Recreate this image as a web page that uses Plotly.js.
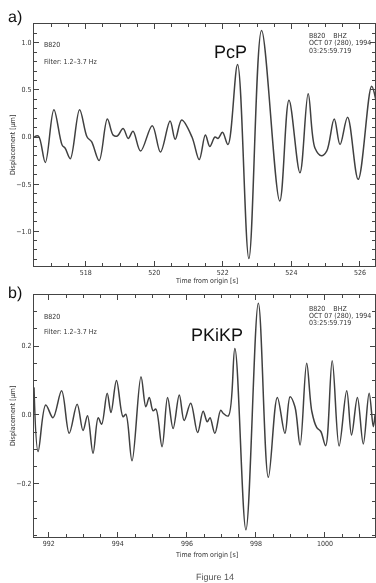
<!DOCTYPE html>
<html>
<head>
<meta charset="utf-8">
<script src="https://cdn.plot.ly/plotly-3.0.1.min.js"></script>
<style>html,body{margin:0;padding:0;background:#fff;}#chart{width:376px;height:583px;}
.main-svg{will-change:transform;}
.main-svg text{text-rendering:geometricPrecision;}
</style>
</head>
<body>
<div id="chart"></div>
<script>
// Panel a) PcP
const timeA = [516.50,516.62,516.82,517.07,517.31,517.40,517.55,517.82,518.04,518.17,518.39,518.63,518.80,518.92,519.09,519.24,519.38,519.60,519.94,520.18,520.46,520.61,520.80,521.10,521.31,521.49,521.62,521.77,521.86,521.99,522.15,522.43,522.76,523.13,523.66,523.93,524.25,524.49,524.69,524.88,525.03,525.25,525.42,525.64,525.95,526.34,526.46];
const dispA = [0.00,0.01,-0.27,0.29,-0.085,-0.12,-0.23,0.29,0.00,-0.05,-0.25,0.19,0.02,0.01,0.09,-0.015,0.06,-0.15,0.12,-0.16,0.17,-0.025,0.18,0.00,-0.24,0.02,-0.10,0.00,-0.015,0.05,-0.08,0.77,-1.29,1.13,-0.68,0.39,-0.38,0.46,-0.12,-0.20,-0.15,0.19,-0.08,0.21,-0.45,0.54,0.40];
// Panel b) PKiKP
const timeB = [991.57,991.69,991.91,992.12,992.37,992.59,992.82,992.99,993.12,993.28,993.43,993.53,993.69,993.80,993.96,994.15,994.23,994.41,994.67,994.81,994.91,995.02,995.10,995.28,995.44,995.60,995.78,995.92,996.11,996.31,996.47,996.59,996.67,996.81,996.98,997.05,997.20,997.39,997.71,998.07,998.36,998.62,998.84,998.99,999.13,999.28,999.47,999.62,999.76,999.88,1000.02,1000.21,1000.41,1000.63,1000.77,1000.94,1001.11,1001.28,1001.40,1001.45];
const dispB = [0.08,-0.106,0.029,-0.008,0.07,-0.053,0.031,-0.045,-0.002,-0.111,-0.008,-0.027,0.063,0.007,0.10,-0.005,0.002,-0.133,0.111,0.024,0.051,0.012,0.017,-0.092,0.051,-0.039,0.058,-0.016,0.034,-0.051,0.011,-0.02,-0.008,-0.053,0.014,0.005,-0.003,0.193,-0.333,0.324,-0.181,0.051,-0.053,0.053,0.024,-0.087,0.15,0.01,-0.036,-0.048,-0.089,0.157,-0.09,0.070,-0.058,0.051,-0.084,0.063,-0.034,0.0];

const W = 376, H = 583, L = 34, R = 1;
const px = x => (x - L) / (W - L - R);
const py = y => (H - y) / H;

const lineStyle = {color: '#404040', width: 1.5, shape: 'spline', smoothing: 1};
const traces = [
  {x: timeA, y: dispA, xaxis: 'x', yaxis: 'y', mode: 'lines', line: lineStyle, hoverinfo: 'skip'},
  {x: timeB, y: dispB, xaxis: 'x2', yaxis: 'y2', mode: 'lines', line: lineStyle, hoverinfo: 'skip'}
];

const tickFont = {family: '"Liberation Sans Narrow", "DejaVu Sans Condensed", sans-serif', size: 7, color: '#333'};
function xAxis(range, anchor) {
  return {range: range, anchor: anchor, dtick: 2, tick0: 0, ticks: 'inside', ticklen: 5, tickwidth: 1, tickcolor: '#444',
    showline: true, linecolor: '#444', linewidth: 1, mirror: 'allticks', showgrid: false, zeroline: false,
    tickfont: tickFont, ticklabelstandoff: 0,
    minor: {dtick: 0.5, ticks: 'inside', ticklen: 3, tickcolor: '#444', showgrid: false}};
}
function yAxis(range, domain, anchor, dtick, mdtick) {
  return {range: range, domain: domain, anchor: anchor, dtick: dtick, tick0: 0, tickformat: '.1f', ticks: 'inside', ticklen: 5, tickwidth: 1, tickcolor: '#444',
    showline: true, linecolor: '#444', linewidth: 1, mirror: 'allticks', showgrid: false, zeroline: false,
    tickfont: tickFont, ticklabelstandoff: 0,
    minor: {dtick: mdtick, ticks: 'inside', ticklen: 3, tickcolor: '#444', showgrid: false}};
}

const small = {family: '"Liberation Sans Narrow", "DejaVu Sans Condensed", sans-serif', size: 7, color: '#333'};
const big = {family: '"Liberation Sans", Arial, sans-serif', size: 18, color: '#111'};
function ann(text, x, y, font, xa, extra) {
  return Object.assign({text: text, x: px(x), y: py(y), xref: 'paper', yref: 'paper', showarrow: false,
    xanchor: xa || 'left', yanchor: 'middle', font: font}, extra || {});
}
const annotations = [
  ann('a)', 6, 17, {family: '"Liberation Sans", Arial, sans-serif', size: 16, color: '#111'}),
  ann('PcP', 230, 52, big, 'center'),
  ann('B820', 42, 45, small),
  ann('Filter: 1.2\u20133.7 Hz', 42, 62, small),
  ann('B820\u00a0\u00a0\u00a0\u00a0BHZ', 307, 36, small),
  ann('OCT 07 (280), 1994', 307, 43, small),
  ann('03:25:59.719', 307, 51, small),
  ann('Displacement [\u00b5m]', 13, 145, small, 'center', {textangle: -90}),
  ann('Time from origin [s]', 206, 281, small, 'center'),
  ann('b)', 6, 292, {family: '"Liberation Sans", Arial, sans-serif', size: 16, color: '#111'}),
  ann('PKiKP', 217, 335, big, 'center'),
  ann('B820', 42, 317, small),
  ann('Filter: 1.2\u20133.7 Hz', 42, 332, small),
  ann('B820\u00a0\u00a0\u00a0\u00a0BHZ', 307, 309, small),
  ann('OCT 07 (280), 1994', 307, 316, small),
  ann('03:25:59.719', 307, 323, small),
  ann('Displacement [\u00b5m]', 13, 416, small, 'center', {textangle: -90}),
  ann('Time from origin [s]', 206, 555, small, 'center'),
  ann('Figure 14', 215, 577, {family: '"Liberation Sans", Arial, sans-serif', size: 9, color: '#555'}, 'center')
];

const layout = {
  width: W, height: H, margin: {l: L, r: R, t: 0, b: 0}, showlegend: false,
  paper_bgcolor: '#fff', plot_bgcolor: '#fff',
  xaxis: xAxis([516.49, 526.44], 'y'),
  yaxis: yAxis([-1.37, 1.20], [py(266), py(24)], 'x', 0.5, 0.1),
  xaxis2: xAxis([991.57, 1001.45], 'y2'),
  yaxis2: yAxis([-0.354, 0.348], [py(537), py(295)], 'x2', 0.2, 0.05),
  annotations: annotations
};
Plotly.newPlot('chart', traces, layout, {staticPlot: true, displayModeBar: false});
</script>
</body>
</html>
